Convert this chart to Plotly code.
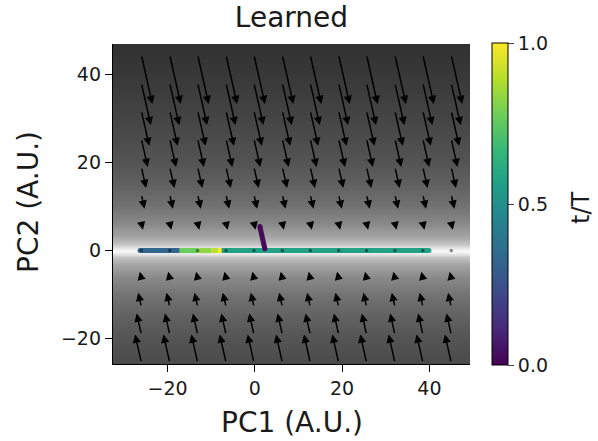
import plotly.graph_objects as go
from plotly.colors import sample_colorscale

# ---------------- data ----------------
# background shading (gray level, 0 = black, 1 = white) sampled along PC2
bg_y = [-26.0, -20.0, -15.0, -10.0, -6.0, -3.0, -1.5, -0.7, 0.0, 0.7, 1.5, 3.0, 6.0, 10.0, 15.0, 20.0, 30.0, 40.0, 47.5]
bg_level = [0.29, 0.33, 0.38, 0.45, 0.54, 0.65, 0.77, 0.90, 0.98, 0.90, 0.77, 0.65, 0.54, 0.45, 0.38, 0.33, 0.27, 0.22, 0.19]
bg_x = [-33.0, 50.0]

# quiver grid (tail positions) and per-row vector components
quiver_x = [-26.0, -19.5, -13.1, -6.6, -0.2, 6.3, 12.7, 19.2, 25.6, 32.1, 38.5, 45.0]
quiver_y = [-25.5, -19.1, -12.8, -6.4, 0.0, 6.3, 12.7, 19.0, 25.4, 31.8, 38.1, 44.5]
quiver_u = [-1.44, -1.08, -0.72, -0.36, 0.0, 0.36, 0.72, 1.08, 1.44, 1.80, 2.16, 2.52]
quiver_v = [6.39, 4.79, 3.21, 1.60, 0.0, -1.58, -3.18, -4.76, -6.37, -7.97, -9.55, -11.16]

# trajectory pieces coloured by t/T
seg_x0 = [1.15, -26.3, -17.2, -13.0, -10.0, -8.4, -7.6]
seg_y0 = [5.46, 0.0, 0.0, 0.0, 0.0, 0.0, 0.0]
seg_x1 = [2.3, -17.2, -13.0, -10.0, -8.4, -7.3, 39.9]
seg_y1 = [0.4, 0.0, 0.0, 0.0, 0.0, 0.0, 0.0]
seg_t = [0.02, 0.33, 0.77, 0.83, 0.90, 1.0, 0.57]

x_range = [-32.5, 49.3]
y_range = [-25.8, 47.0]
x_ticks = [-20, 0, 20, 40]
y_ticks = [-20, 0, 20, 40]
cbar_ticks = [0.0, 0.5, 1.0]
cbar_ticktext = ["0.0", "0.5", "1.0"]

FONT = "DejaVu Sans"
W, H = 598, 441
ML, MR, MT, MB = 113, 128, 44, 77
PW = W - ML - MR
PH = H - MT - MB


def px_x(p):
    return (p - ML) / PW


def px_y(p):
    return 1 - (p - MT) / PH


fig = go.Figure()

# background
fig.add_trace(go.Heatmap(
    x=bg_x, y=bg_y, z=[[v, v] for v in bg_level],
    zmin=0, zmax=1, colorscale=[[0, "black"], [1, "white"]],
    zsmooth="best", showscale=False, hoverinfo="skip"))

# trajectory
for x0, y0, x1, y1, t in zip(seg_x0, seg_y0, seg_x1, seg_y1, seg_t):
    c = sample_colorscale("Viridis", [t])[0]
    fig.add_trace(go.Scatter(x=[x0, x1], y=[y0, y1], mode="lines",
                             line=dict(color=c, width=5), showlegend=False,
                             hoverinfo="skip"))
end_x = [seg_x0[0], seg_x1[0], seg_x0[1], seg_x1[-1]]
end_y = [seg_y0[0], seg_y1[0], seg_y0[1], seg_y1[-1]]
end_t = [seg_t[0], seg_t[0], seg_t[1], seg_t[-1]]
fig.add_trace(go.Scatter(x=end_x, y=end_y, mode="markers",
                         marker=dict(size=5, color=end_t, coloraxis="coloraxis"),
                         showlegend=False, hoverinfo="skip"))

# zero-length quiver arrows (dots)
zx, zy = [], []
for i, (u, v) in enumerate(zip(quiver_u, quiver_v)):
    if u == 0 and v == 0:
        for x in quiver_x:
            zx.append(x)
            zy.append(quiver_y[i])
fig.add_trace(go.Scatter(x=zx, y=zy, mode="markers",
                         marker=dict(size=3, color="rgba(0,0,0,0.45)", symbol="square"),
                         showlegend=False, hoverinfo="skip"))

# quiver arrows
anns = []
for i, y in enumerate(quiver_y):
    u, v = quiver_u[i], quiver_v[i]
    if u == 0 and v == 0:
        continue
    for x in quiver_x:
        anns.append(dict(x=x + u, y=y + v, ax=x, ay=y, xref="x", yref="y",
                         axref="x", ayref="y", text="", showarrow=True,
                         arrowhead=2, arrowsize=1.1, arrowwidth=1.5,
                         arrowcolor="black", standoff=0, startstandoff=0))

TXT = "#1a1a1a"
# axis titles and colorbar label
anns.append(dict(text="PC1 (A.U.)", x=0.5, xref="paper", xanchor="center",
                 y=px_y(422), yref="paper", yanchor="middle", showarrow=False,
                 font=dict(size=28, family=FONT, color=TXT)))
anns.append(dict(text="PC2 (A.U.)", x=px_x(28), xref="paper", xanchor="center",
                 y=px_y(202), yref="paper", yanchor="middle", textangle=-90,
                 showarrow=False, font=dict(size=28, family=FONT, color=TXT)))
anns.append(dict(text="t/T", x=px_x(581), xref="paper", xanchor="center",
                 y=px_y(208), yref="paper", yanchor="middle",
                 textangle=-90, showarrow=False,
                 font=dict(size=24, family=FONT, color=TXT)))

fig.update_layout(
    width=W, height=H,
    margin=dict(l=ML, r=MR, t=MT, b=MB),
    paper_bgcolor="white", plot_bgcolor="white",
    font=dict(family=FONT, color=TXT, size=19),
    title=dict(text="Learned", x=0.5, xref="paper", xanchor="center",
               y=1 - 17 / H, yref="container", yanchor="middle",
               font=dict(size=28, family=FONT, color=TXT)),
    annotations=anns,
    coloraxis=dict(colorscale="Viridis", cmin=0, cmax=1,
                   colorbar=dict(x=px_x(492), xanchor="left", xpad=0,
                                 y=0.5, yanchor="middle", len=1.006, lenmode="fraction",
                                 ypad=0, thickness=16, outlinewidth=1, outlinecolor="black",
                                 tickvals=cbar_ticks, ticktext=cbar_ticktext,
                                 ticks="outside", ticklen=6, tickwidth=1.2,
                                 tickfont=dict(size=19, family=FONT, color=TXT))),
    xaxis=dict(range=x_range, tickvals=x_ticks, ticks="outside", ticklen=7,
               tickwidth=1.3, tickcolor="black", showgrid=False, zeroline=False,
               showline=True, linecolor="black", linewidth=1.3, automargin=False),
    yaxis=dict(range=y_range, tickvals=y_ticks, ticks="outside", ticklen=7,
               tickwidth=1.3, tickcolor="black", showgrid=False, zeroline=False,
               showline=True, linecolor="black", linewidth=1.3, automargin=False),
)

fig.write_html("out.html", config={"displayModeBar": False},
               post_script="document.body.style.margin='0';")
